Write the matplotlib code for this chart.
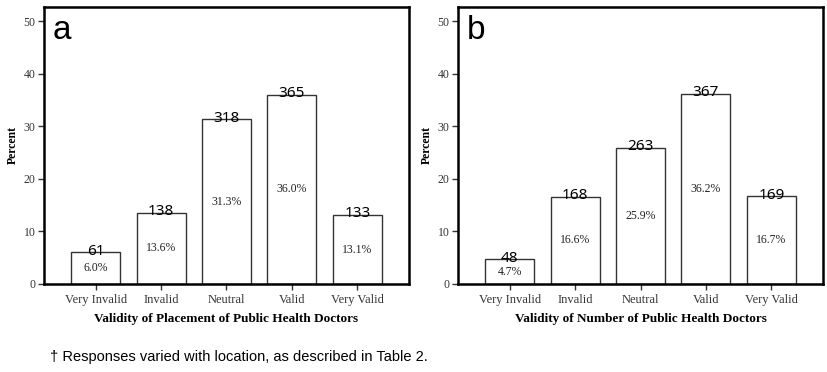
import numpy as np
import matplotlib.pyplot as plt

# categories and data
categories = ['Very Invalid', 'Invalid', 'Neutral', 'Valid', 'Very Valid']

counts_a = [61, 138, 318, 365, 133]
pct_a = [6.0, 13.6, 31.3, 36.0, 13.1]

counts_b = [48, 168, 263, 367, 169]
pct_b = [4.7, 16.6, 25.9, 36.2, 16.7]

xlabels = ['Validity of Placement of Public Health Doctors',
           'Validity of Number of Public Health Doctors']
letters = ['a', 'b']

fig = plt.figure(figsize=(8.27, 3.72), dpi=100)
W, H = 827, 372

# axes boxes in pixels: left, top, right, bottom
boxes = [(44, 7, 409, 284), (458, 7, 823, 284)]

serif = 'Liberation Serif'
sans = 'Noto Sans'

for box, counts, pct, xl, let in zip(boxes, [counts_a, counts_b], [pct_a, pct_b], xlabels, letters):
    l, t, r, b = box
    ax = fig.add_axes([l / W, 1 - b / H, (r - l) / W, (b - t) / H])
    x = np.arange(len(categories))
    ax.bar(x, pct, width=0.75, color='white', edgecolor='#333333', linewidth=1.0)
    ax.set_xlim(-0.79, 4.79)
    ax.set_ylim(0, 52.7)
    ax.set_yticks([0, 10, 20, 30, 40, 50])
    ax.set_xticks(x)
    ax.set_xticklabels(categories, fontfamily=serif, fontsize=9)
    ax.tick_params(axis='y', labelsize=8.5, length=4, width=1, direction='out', colors='#333333', pad=2)
    ax.tick_params(axis='x', length=4, width=1, direction='out', colors='#333333', pad=3)
    for lab in ax.get_yticklabels():
        lab.set_fontfamily(serif)
    for s in ax.spines.values():
        s.set_linewidth(1.8)
        s.set_color('black')
    ax.set_ylabel('Percent', fontfamily=serif, fontweight='bold', fontsize=8.5)
    ax.yaxis.set_label_coords(-25 / (r - l), 0.5)
    ax.set_xlabel(xl, fontfamily=serif, fontweight='bold', fontsize=9.5, labelpad=5)

    for xi, c, p in zip(x, counts, pct):
        ax.text(xi, p / 2, f'{p:.1f}%', ha='center', va='center',
                fontfamily=serif, fontsize=8.5, color='#222222')
        ax.text(xi, p - 1.2, str(c), ha='center', va='bottom',
                fontfamily=sans, fontsize=11, color='black')

    ax.text(0.025, 0.97, let, transform=ax.transAxes, ha='left', va='top',
            fontfamily='Liberation Sans', fontsize=24, color='black')

fig.text(50 / W, 1 - 357 / H, '\u2020 Responses varied with location, as described in Table 2.',
         fontfamily='Liberation Sans', fontsize=10.5, va='center', ha='left')

fig.savefig('out.png', dpi=100)
